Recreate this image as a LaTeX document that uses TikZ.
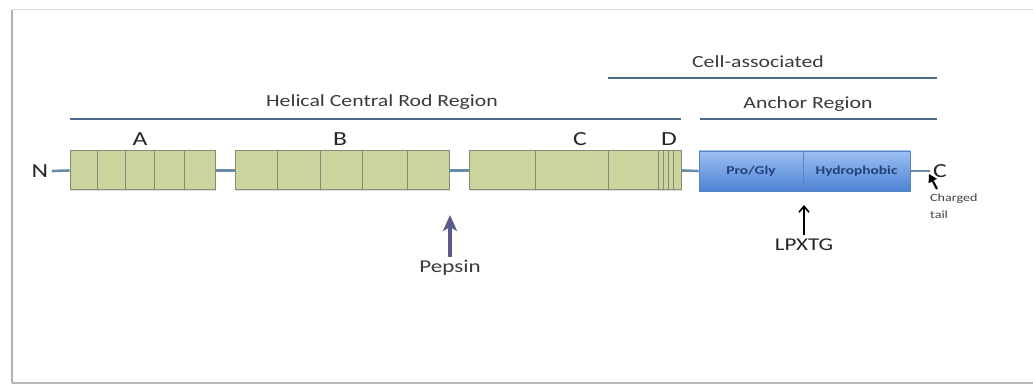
\documentclass[tikz,border=0pt]{standalone}
\usepackage{fontspec}
\usepackage{graphicx}
\setmainfont{Carlito}
\usetikzlibrary{arrows.meta,shadows}
\definecolor{segfill}{HTML}{CBD49C}
\definecolor{segdraw}{HTML}{858A78}
\definecolor{linkc}{HTML}{6A8BA6}
\definecolor{barc}{HTML}{4D6C8C}
\definecolor{bluetop}{HTML}{9CC0F2}
\definecolor{bluebot}{HTML}{4D82D4}
\definecolor{bluedraw}{HTML}{5A84C2}
\definecolor{bluetext}{HTML}{23407A}
\definecolor{pepc}{HTML}{5C5C8C}
\definecolor{textc}{HTML}{3A3A3A}
% wide lettering used for all labels
\newcommand{\widetxt}[1]{\scalebox{1.28}[1]{#1}}
\tikzset{
  segbox/.style={draw=segdraw, line width=1pt, fill=segfill, inner sep=0pt,
    minimum height=39pt, drop shadow={shadow xshift=1pt, shadow yshift=-1.5pt, opacity=0.25}},
  anchorbox/.style={draw=bluedraw, line width=0.8pt, top color=bluetop, bottom color=bluebot,
    inner sep=0pt, minimum height=40pt, font=\fontsize{12}{12}\selectfont\bfseries, text=bluetext,
    drop shadow={shadow xshift=1pt, shadow yshift=-1.5pt, opacity=0.25}},
  divider/.style={segdraw, line width=0.9pt},
  link/.style={linkc, line width=2.6pt},
  bar/.style={barc, line width=2.8pt},
  headlbl/.style={font=\fontsize{17}{17}\selectfont, text=textc},
  letter/.style={font=\fontsize{20}{20}\selectfont, text=black!85},
}
\begin{document}
\begin{tikzpicture}[x=1pt,y=-1pt]
  \useasboundingbox (0,0) rectangle (1033,387);
  % frame (open on the right)
  \draw[gray!30, line width=1pt] (1033,10) -- (12,10);
  \draw[gray!60, line width=1.2pt] (12,10) -- (12,383);
  \draw[gray!55, line width=1.2pt] (12,383) -- (1033,383);

  % N and C termini
  \node[letter] (nterm) at (40,171) {\widetxt{N}};
  \node[letter] (cterm) at (940,171) {\widetxt{C}};

  % rod blocks
  \node[segbox, minimum width=145pt] (blkA) at (142.5,170.5) {};
  \node[segbox, minimum width=214pt] (blkB) at (342,170.5) {};
  \node[segbox, minimum width=212pt] (blkC) at (575,170.5) {};

  \foreach \x in {97,125,154,184}
    \draw[divider] (\x,151) -- (\x,190);
  \foreach \x in {277,320,362,407}
    \draw[divider] (\x,151) -- (\x,190);
  \foreach \x in {535,608,658,663,668,673}
    \draw[divider] (\x,151) -- (\x,190);

  % anchor region blocks
  \node[anchorbox, minimum width=104pt] (progly) at (751,171) {\widetxt{Pro/Gly}};
  \node[anchorbox, minimum width=107pt] (hydro) at (856.5,171) {\widetxt{Hydrophobic}};

  % linkers
  \draw[link] (nterm.east) -- (blkA.west);
  \draw[link] (blkA.east) -- (blkB.west);
  \draw[link] (blkB.east) -- (blkC.west);
  \draw[link] (blkC.east) -- (progly.west);
  \draw[link] (hydro.east) -- (cterm.west);

  % domain letters
  \node[letter] (lA) at (140,139) {\widetxt{A}};
  \node[letter] (lB) at (340,139) {\widetxt{B}};
  \node[letter] (lC) at (580,139) {\widetxt{C}};
  \node[letter] (lD) at (669,139) {\widetxt{D}};

  % region bars
  \coordinate (rodL) at (70,119);
  \coordinate (rodR) at (681,119);
  \coordinate (ancL) at (700,119);
  \coordinate (ancR) at (937,119);
  \coordinate (cellL) at (608,78);
  \coordinate (cellR) at (937,78);
  \draw[bar] (rodL) -- (rodR);
  \draw[bar] (ancL) -- (ancR);
  \draw[bar] (cellL) -- (cellR);
  \node[headlbl] (rodlbl) at (382,102) {\widetxt{Helical Central Rod Region}};
  \node[headlbl] (anclbl) at (808,104) {\widetxt{Anchor Region}};
  \node[headlbl] (celllbl) at (758,62) {\widetxt{Cell-associated}};

  % cleavage sites
  \node[font=\fontsize{18}{18}\selectfont, text=textc, anchor=north] (pepsin) at (450,257) {\widetxt{Pepsin}};
  \coordinate (peptip) at (450,215);
  \draw[pepc, line width=3.2pt, -{Stealth[length=16pt,width=14pt,inset=4pt]}] (pepsin.north) -- (peptip);

  \node[font=\fontsize{18}{18}\selectfont, text=black!85, anchor=north] (lpxtg) at (804,235) {\widetxt{LPXTG}};
  \coordinate (lptip) at (804,205);
  \draw[black, line width=1.6pt, -{Straight Barb[length=6pt,width=10pt]}] (lpxtg.north) -- (lptip);

  % charged tail
  \node[font=\fontsize{11}{17}\selectfont, text=black!75, align=left, anchor=north west, inner sep=1pt]
    (tail) at (929,193) {\widetxt{Charged}\\\widetxt{tail}};
  \coordinate (tailtip) at (929,174);
  \draw[black, line width=2.2pt, -{Triangle[length=8pt,width=9pt]}] (937,189) -- (tailtip);
\end{tikzpicture}
\end{document}
